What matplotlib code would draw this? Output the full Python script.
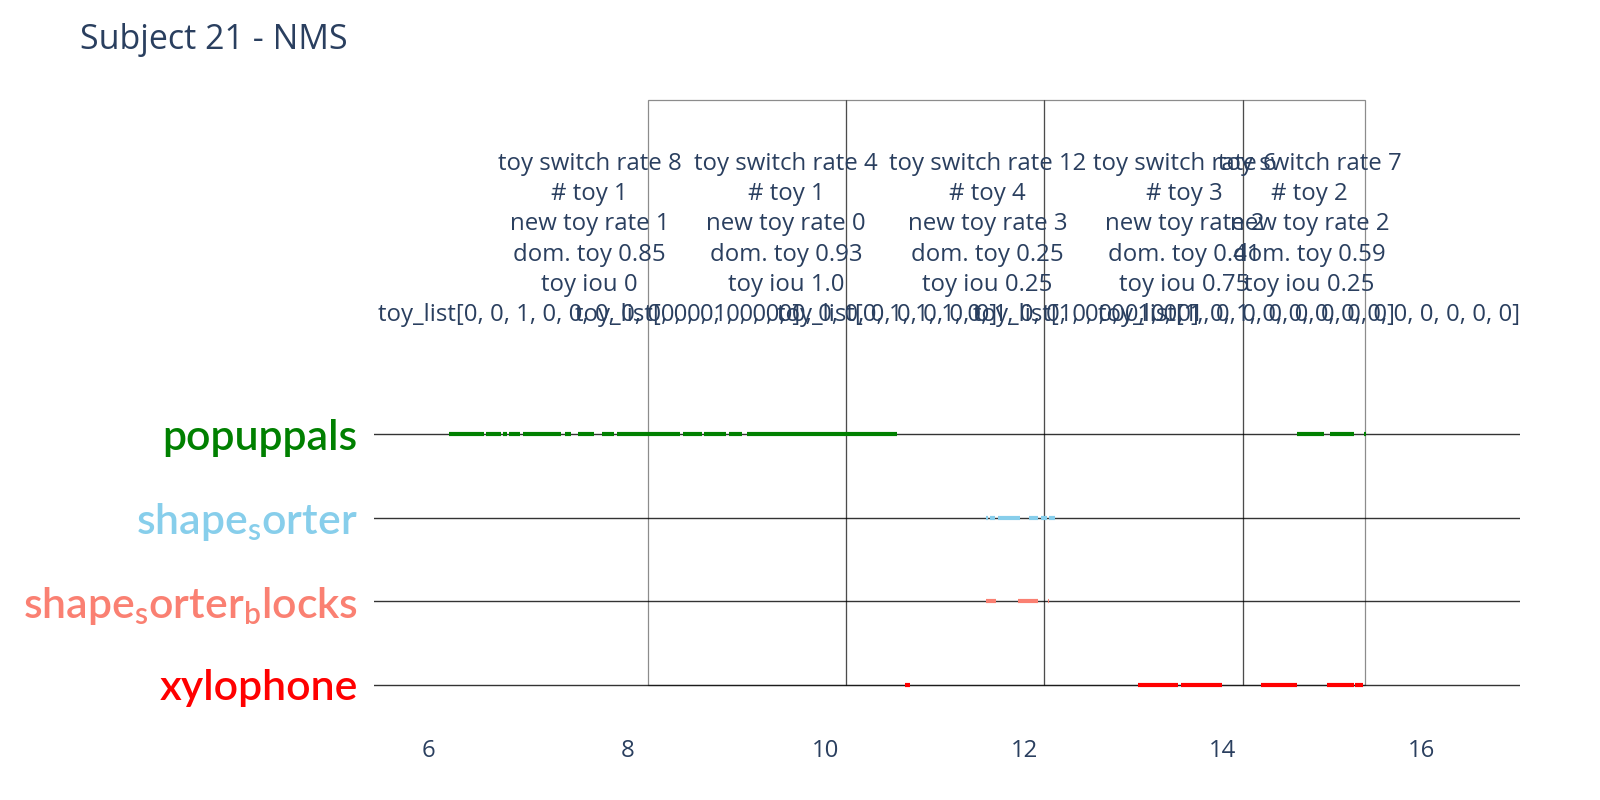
import matplotlib.pyplot as plt
from matplotlib.patches import Rectangle

# toys, bottom to top
toys = ["xylophone", "shape_sorter_blocks", "shape_sorter", "popuppals"]
toy_labels = [
    "xylophone",
    r"shape$_{\mathrm{s}}$orter$_{\mathrm{b}}$locks",
    r"shape$_{\mathrm{s}}$orter",
    "popuppals",
]
toy_colors = ["red", "salmon", "skyblue", "green"]

# play intervals (minutes) for each toy
xylophone_seg = [(10.799, 10.843), (13.148, 13.551), (13.575, 13.988),
                 (14.384, 14.743), (15.045, 15.320), (15.330, 15.408)]
blocks_seg = [(11.614, 11.715), (11.936, 12.141), (12.238, 12.251)]
sorter_seg = [(11.614, 11.634), (11.654, 11.702), (11.732, 11.956),
              (12.050, 12.141), (12.172, 12.229), (12.243, 12.309)]
popuppals_seg = [(6.209, 6.559), (6.579, 6.730), (6.750, 6.794), (6.811, 6.921),
                 (6.952, 7.331), (7.375, 7.435), (7.503, 7.670), (7.744, 7.868),
                 (7.898, 8.532), (8.563, 8.750), (8.771, 8.996), (9.026, 9.154),
                 (9.207, 10.715), (14.746, 15.015), (15.078, 15.323), (15.421, 15.438)]
segments = [xylophone_seg, blocks_seg, sorter_seg, popuppals_seg]

# window boundaries and per-window stats
window_edges = [8.21, 10.2, 12.2, 14.2, 15.43]
text_x = [7.62, 9.6, 11.63, 13.61, 14.87]
switch_rate = [8, 4, 12, 6, 7]
n_toy = [1, 1, 4, 3, 2]
new_toy_rate = [1, 0, 3, 2, 2]
dom_toy = [0.85, 0.93, 0.25, 0.41, 0.59]
toy_iou = ["0", "1.0", "0.25", "0.75", "0.25"]
toy_list = [
    [0, 0, 1, 0, 0, 0, 0, 0, 0, 0, 0, 0, 0],
    [0, 0, 1, 0, 0, 0, 0, 0, 0, 0, 0, 0, 0],
    [0, 1, 1, 1, 0, 1, 0, 0, 0, 0, 0, 0, 0],
    [1, 0, 0, 1, 0, 1, 0, 0, 0, 0, 0, 0, 0],
    [1, 0, 1, 0, 0, 0, 0, 0, 0, 0, 0, 0, 0],
]

TEXT = "#2a3f5f"
plt.rcParams["mathtext.fontset"] = "custom"
plt.rcParams["mathtext.rm"] = "Lato:semibold"

fig = plt.figure(figsize=(16, 8), dpi=100)
ax = fig.add_axes([0.234, 0.1, 0.716, 0.775])

for i, segs in enumerate(segments):
    ax.hlines([i] * len(segs), [s[0] for s in segs], [s[1] for s in segs],
              colors=toy_colors[i], linewidth=3.0, capstyle="butt", zorder=3)

for x0, x1 in zip(window_edges[:-1], window_edges[1:]):
    ax.add_patch(Rectangle((x0, 0), x1 - x0, 7, fill=False, edgecolor="black",
                           alpha=0.45, linewidth=0.9, clip_on=False, zorder=2))

for k in range(len(text_x)):
    txt = "\n".join([
        f"toy switch rate {switch_rate[k]}",
        f"# toy {n_toy[k]}",
        f"new toy rate {new_toy_rate[k]}",
        f"dom. toy {dom_toy[k]}",
        f"toy iou {toy_iou[k]}",
        f"toy_list{toy_list[k]}",
    ])
    ax.text(text_x[k], 5.33, txt, ha="center", va="center", fontsize=17.3,
            family="Open Sans", color=TEXT, linespacing=1.35, zorder=4)

ax.set_xlim(5.455, 16.99)
ax.set_ylim(-0.42, 7)
ax.set_xticks([6, 8, 10, 12, 14, 16])
ax.tick_params(axis="x", length=0, pad=14, labelsize=17.3, labelcolor=TEXT)
for lab in ax.get_xticklabels():
    lab.set_family("Open Sans")
ax.set_yticks(range(len(toys)))
ax.set_yticklabels(toy_labels, fontsize=30.8, family="Lato", fontweight="semibold")
ax.tick_params(axis="y", length=0, pad=12)
for lab, c in zip(ax.get_yticklabels(), toy_colors):
    lab.set_color(c)
ax.yaxis.grid(True, color="#333333", linewidth=1.0, zorder=1)
ax.set_axisbelow(True)
for sp in ax.spines.values():
    sp.set_visible(False)

fig.text(80 / 1600, 1 - 40 / 800, "Subject 21 - NMS", fontsize=24.5,
         family="Open Sans", color=TEXT, ha="left", va="center")

fig.savefig("out.png", dpi=100, facecolor="white")
